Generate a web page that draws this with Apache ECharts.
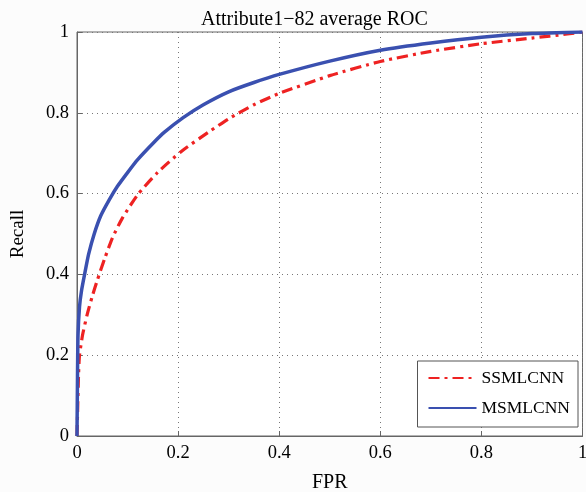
<!DOCTYPE html>
<html>
<head>
<meta charset="utf-8">
<script src="https://cdn.jsdelivr.net/npm/echarts@6/dist/echarts.min.js"></script>
<style>html,body{margin:0;padding:0;background:#fcfcfc}#c{width:586px;height:492px}</style>
</head>
<body>
<div id="c"></div>
<script>
const titleText = 'Attribute1\u221282 average ROC';
const xName = 'FPR';
const yName = 'Recall';
const seriesNames = ['SSMLCNN', 'MSMLCNN'];
const ssmlcnn = [[0,0],[0.001,0.05],[0.003,0.15],[0.005,0.2],[0.011,0.25],[0.02,0.3],[0.03,0.345],[0.04,0.385],[0.055,0.44],[0.07,0.49],[0.09,0.54],[0.12,0.597],[0.16,0.653],[0.207,0.705],[0.26,0.752],[0.3,0.785],[0.35,0.82],[0.4,0.848],[0.5,0.892],[0.6,0.927],[0.7,0.952],[0.8,0.971],[0.9,0.985],[0.97,0.995],[1,1]];
const msmlcnn = [[0,0],[0.001,0.15],[0.002,0.25],[0.005,0.32],[0.009,0.36],[0.015,0.4],[0.023,0.45],[0.034,0.5],[0.047,0.545],[0.064,0.585],[0.08,0.618],[0.1,0.652],[0.12,0.684],[0.15,0.724],[0.173,0.752],[0.21,0.788],[0.25,0.82],[0.3,0.852],[0.35,0.875],[0.4,0.895],[0.5,0.928],[0.6,0.955],[0.7,0.973],[0.8,0.987],[0.9,0.996],[1,1]];

const font = 'Liberation Serif';
const chart = echarts.init(document.getElementById('c'));
const axisCommon = {
  min: 0, max: 1, interval: 0.2,
  axisLine: {show: true, onZero: false, lineStyle: {color: '#666', width: 1}},
  axisTick: {show: true, inside: true, length: 5, lineStyle: {color: '#666'}},
  splitLine: {show: true, lineStyle: {color: '#777', type: [1, 4], width: 1}},
  axisLabel: {color: '#000', fontFamily: font, fontSize: 18.5, margin: 8, formatter: v => String(+v.toFixed(1))},
  nameTextStyle: {color: '#000', fontFamily: font, fontSize: 20}
};
chart.setOption({
  backgroundColor: '#fcfcfc',
  animation: false,
  title: {text: titleText, left: 196, top: 5, textStyle: {fontFamily: font, fontSize: 20, fontWeight: 'normal', color: '#000'}},
  grid: {left: 77, right: 3.5, top: 32, bottom: 56, containLabel: false, outerBoundsMode: 'none', show: true, backgroundColor: '#fff', borderColor: '#666', borderWidth: 1},
  xAxis: Object.assign({}, axisCommon, {type: 'value', name: xName, nameLocation: 'middle', nameGap: 37}),
  yAxis: Object.assign({}, axisCommon, {type: 'value', name: yName, nameLocation: 'middle', nameGap: 49,
    nameTextStyle: {color: '#000', fontFamily: font, fontSize: 19}}),
  legend: {
    orient: 'vertical', right: 8, bottom: 65,
    backgroundColor: '#fff', borderColor: '#555', borderWidth: 1, padding: [8, 8, 10, 10],
    itemWidth: 48, itemHeight: 14, itemGap: 12,
    itemStyle: {opacity: 0, borderWidth: 0},
    textStyle: {fontFamily: font, fontSize: 17.5, color: '#000'},
    data: seriesNames
  },
  series: [
    {name: seriesNames[0], type: 'line', data: ssmlcnn, symbol: 'none', smooth: 0.2, z: 2,
     lineStyle: {color: '#ee2222', width: 3.2, type: [11, 5, 3, 5]}, itemStyle: {color: '#ee2222'}},
    {name: seriesNames[1], type: 'line', data: msmlcnn, symbol: 'none', smooth: 0.2, z: 3,
     lineStyle: {color: '#3a50b0', width: 3.5}, itemStyle: {color: '#3a50b0'}}
  ]
});
</script>
</body>
</html>
